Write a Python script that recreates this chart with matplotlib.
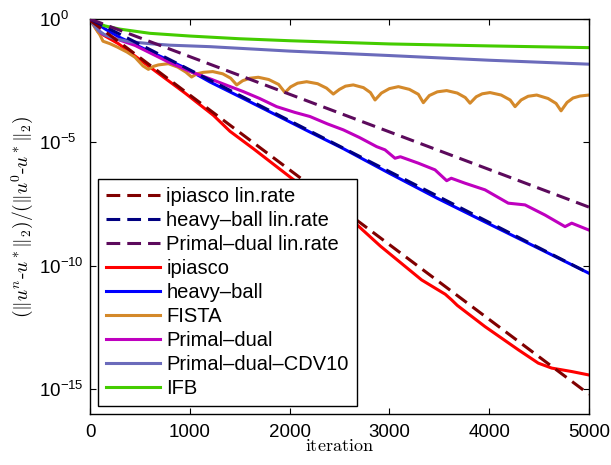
import matplotlib
matplotlib.use("Agg")
import matplotlib.pyplot as plt
import numpy as np
from matplotlib.ticker import FixedLocator, FuncFormatter, NullLocator

plt.rcParams["font.family"] = ["Liberation Sans", "DejaVu Sans"]
plt.rcParams["mathtext.fontset"] = "cm"

# iterations and log10 of the relative error
ipiasco_rate_it = [0, 5000]
ipiasco_rate_log = [-0.05, -15.2]
heavy_rate_it = [0, 5000]
heavy_rate_log = [0.0, -10.3]
pd_rate_it = [0, 5000]
pd_rate_log = [0.0, -7.62]

ipiasco_it = [0, 83, 284, 618, 952, 1236, 1403, 1636, 2004, 2300, 2638, 2910, 3323,
              3560, 3624, 3680, 3958, 4292, 4492, 4626, 4827, 5000]
ipiasco_log = [0.0, -0.53, -1.0, -2.0, -3.0, -3.9, -4.55, -5.25, -6.4, -7.3, -8.2,
               -9.2, -10.57, -11.15, -11.38, -11.6, -12.46, -13.4, -13.94, -14.14, -14.28, -14.42]

heavy_it = [0, 150, 300, 618, 952, 1202, 1536, 1870, 2204, 2538, 3000, 3474, 3958, 4500, 5000]
heavy_log = [0.0, -0.4, -0.75, -1.35, -1.98, -2.55, -3.22, -3.9, -4.58, -5.25, -6.25, -7.25,
             -8.22, -9.3, -10.3]

fista_it = [0, 50, 100, 130, 200, 270, 371, 451, 531, 585, 635, 685, 785, 880, 960, 1018,
            1070, 1135, 1230, 1330, 1410, 1470, 1530, 1600, 1686, 1790, 1890, 1954, 2010,
            2080, 2171, 2280, 2370, 2438, 2500, 2560, 2638, 2740, 2810, 2856, 2920, 3000,
            3090, 3200, 3290, 3340, 3400, 3480, 3574, 3680, 3760, 3808, 3870, 3930, 4008,
            4120, 4210, 4259, 4320, 4390, 4476, 4590, 4670, 4720, 4780, 4840, 4910, 5000]
fista_log = [0.0, -0.35, -0.65, -0.9, -1.0, -1.13, -1.34, -1.55, -1.9, -2.04, -1.92, -1.86,
             -1.81, -1.95, -2.15, -2.35, -2.22, -2.16, -2.13, -2.22, -2.4, -2.67, -2.5, -2.4,
             -2.36, -2.45, -2.65, -2.98, -2.75, -2.6, -2.54, -2.62, -2.8, -3.04, -2.85, -2.72,
             -2.67, -2.78, -2.98, -3.28, -3.0, -2.82, -2.74, -2.85, -3.05, -3.39, -3.1, -2.95,
             -2.9, -3.0, -3.18, -3.41, -3.15, -3.03, -2.98, -3.08, -3.28, -3.55, -3.28, -3.13,
             -3.08, -3.22, -3.42, -3.72, -3.38, -3.2, -3.12, -3.08]

pd_it = [0, 117, 451, 785, 1018, 1220, 1380, 1536, 1700, 1870, 2050, 2204, 2380, 2538,
         2700, 2872, 2956, 3056, 3110, 3290, 3457, 3574, 3620, 3757, 3958, 4191, 4359,
         4559, 4760, 4827, 5000]
pd_log = [0.0, -0.6, -1.07, -1.74, -2.15, -2.45, -2.7, -2.94, -3.22, -3.55, -3.78, -3.95,
          -4.25, -4.49, -4.8, -5.17, -5.3, -5.64, -5.58, -5.84, -6.11, -6.55, -6.45, -6.65,
          -6.92, -7.46, -7.53, -7.94, -8.41, -8.27, -8.55]

cdv_it = [0, 30, 80, 150, 250, 400, 600, 800, 1200, 2000, 3000, 4000, 5000]
cdv_log = [0.0, -0.2, -0.45, -0.65, -0.8, -0.92, -1.0, -1.06, -1.12, -1.3, -1.48, -1.67, -1.83]

ifb_it = [0, 50, 150, 300, 600, 1000, 1500, 2000, 3000, 4000, 5000]
ifb_log = [0.0, -0.12, -0.28, -0.41, -0.58, -0.69, -0.8, -0.88, -1.01, -1.09, -1.16]

series = [
    ("ipiasco lin.rate", ipiasco_rate_it, ipiasco_rate_log, "#800000", "--"),
    ("heavy–ball lin.rate", heavy_rate_it, heavy_rate_log, "#000080", "--"),
    ("Primal–dual lin.rate", pd_rate_it, pd_rate_log, "#5c0a5c", "--"),
    ("ipiasco", ipiasco_it, ipiasco_log, "#ff0000", "-"),
    ("heavy–ball", heavy_it, heavy_log, "#0000ff", "-"),
    ("FISTA", fista_it, fista_log, "#d4892a", "-"),
    ("Primal–dual", pd_it, pd_log, "#bf00bf", "-"),
    ("Primal–dual–CDV10", cdv_it, cdv_log, "#6b6bbb", "-"),
    ("IFB", ifb_it, ifb_log, "#44cc00", "-"),
]

fig = plt.figure(figsize=(6.11, 4.65), dpi=100)
ax = fig.add_axes([90 / 611, 51 / 465, 499 / 611, 395 / 465])

for label, it, lg, color, ls in series:
    kw = dict(color=color, lw=2.2, label=label)
    if ls == "--":
        kw.update(ls=(0, (4.5, 2.3)), zorder=3)
    else:
        kw.update(zorder=2)
    ax.plot(it, 10.0 ** np.array(lg), **kw)

ax.set_yscale("log")
ax.set_xlim(0, 5000)
ax.set_ylim(1e-16, 1)
ax.xaxis.set_major_locator(FixedLocator([0, 1000, 2000, 3000, 4000, 5000]))
ax.yaxis.set_major_locator(FixedLocator([1e-15, 1e-10, 1e-5, 1e0]))
ax.yaxis.set_minor_locator(NullLocator())
ax.yaxis.set_major_formatter(FuncFormatter(lambda v, p: r"$\mathregular{10^{%d}}$" % round(np.log10(v))))
ax.tick_params(direction="in", top=True, right=True, length=4, width=0.8, labelsize=13.5)
ax.tick_params(axis="x", pad=7)
ax.tick_params(axis="y", pad=37)
for sp in ax.spines.values():
    sp.set_linewidth(1.0)

ax.set_xlabel(r"$\mathrm{iteration}$", fontsize=13)
ax.xaxis.set_label_coords(0.5, -0.062)
ax.set_ylabel(r"$(\|u^n\text{-}u^*\|_2)/(\|u^0\text{-}u^*\|_2)$", fontsize=14)
ax.yaxis.set_label_coords(-0.11, 0.5)

leg = ax.legend(loc="lower left", bbox_to_anchor=(0.016, 0.02), borderaxespad=0,
                fontsize=14.5, handlelength=2.7, handletextpad=0.3, labelspacing=0.25,
                borderpad=0.4, fancybox=False, framealpha=1, edgecolor="black")
leg.get_frame().set_linewidth(1.0)

for lbl in ax.get_yticklabels():
    lbl.set_horizontalalignment("left")

fig.savefig("out.png", dpi=100)
